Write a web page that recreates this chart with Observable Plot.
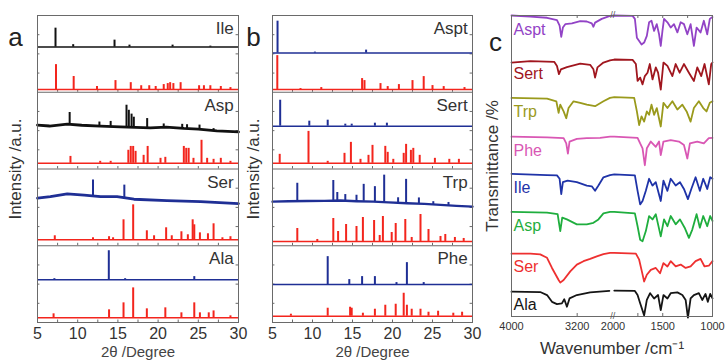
<!DOCTYPE html>
<html><head><meta charset="utf-8">
<script src="https://cdn.jsdelivr.net/npm/d3@7"></script>
<script src="https://cdn.jsdelivr.net/npm/@observablehq/plot@0.6"></script>
<style>
html,body{margin:0;padding:0;background:#fff;}
#wrap{position:relative;width:725px;height:362px;overflow:hidden;}
#wrap svg{position:absolute;top:0;overflow:visible;}
</style></head><body><div id="wrap"></div>
<script>
// ---------------- XRD data (2θ in degrees, intensity in a.u.; 100 a.u. = one sub-panel) ----------------
const xrdTicks = [5, 10, 15, 20, 25, 30];
const namesA = ["Ile", "Asp", "Ser", "Ala"];
const namesB = ["Aspt", "Sert", "Trp", "Phe"];

// baseline levels inside each sub-panel
const aMeasBase = [58.8, 53, 62, 55.8];
const aRefBase  = [3.5, 7.4, 7.8, 6.1];
const bMeasBase = [51, 55.8, 57, 49.4];
const bRefBase  = [3.5, 7.4, 5.6, 8.2];

// peaks: [2θ, height] or [2θ, height, local base]
const ileMeas = [[7.24,24.7],[9.44,3.2],[14.58,9.1],[16.44,2.6],[21.8,2.6],[26.5,1.3]];
const ileRef  = [[7.3,32.5],[9.5,17],[12.4,4],[14.7,11.7],[16.6,9],[17.9,5],[18.9,5],[19.7,4],[20.7,6.5],[21.2,7.8],[21.5,9],[21.9,7.8],[22.8,9],[25.1,5],[25.7,5],[26.5,5],[27.8,4],[29.0,2.6]];
const aspMeasBg = [[5,57.1],[6.5,56],[8.7,58.4],[10.5,57],[12.8,55.8],[15.3,55],[19.05,53.7],[21,54.5],[23.2,52.8],[25,52],[27.3,49.8],[30,48.4]];
const aspMeas = [[9.0,15.6,58],[12.7,5.2,56],[14.1,6.5,55.5],[16.07,28.6,54.5],[16.36,22,54.5],[16.7,17,54.5],[16.98,13,54.5],[18.64,11.7,54],[20.7,5.2,53.5],[23.0,5.2,53],[23.6,5.2,52.5],[25.15,5.2,52],[26.9,2.6,50]];
const aspRef  = [[9.1,9],[12.8,2.6],[14.1,2.6],[16.3,17],[16.6,22],[16.9,22],[17.2,15.6],[18.2,10.4],[18.7,22],[20.3,6.5],[20.9,7.8],[23.2,22],[23.5,19.5],[23.8,19.5],[24.4,6.5],[25.4,30],[26.1,6.5],[26.9,5.2],[27.8,6.5],[29.0,2.6]];
const serMeasBg = [[5,62],[6.6,64],[8.7,67.5],[10.8,66],[12.85,64],[14.9,64],[17.0,60.6],[21.1,58.9],[25.3,57.6],[30,55]];
const serMeas = [[11.9,21.7,64],[15.8,17,62]];
const serRef  = [[7.15,5.2],[11.9,2.6],[13.9,4],[14.4,2.6],[15.7,26],[16.9,45.5],[18.6,11.7],[19.5,5.2],[21.0,15.6],[21.7,5.2],[22.9,10.4],[23.7,6.5],[24.3,26],[24.5,19.5],[25.2,9],[26.2,7.8],[26.9,20.8],[28.0,2.6],[29.0,4]];
const alaMeas = [[7.1,1.3],[13.87,37.7],[15.9,1.3],[24.5,4]];
const alaRef  = [[7.0,5.2],[13.9,10.4],[15.7,19.5],[16.9,39],[18.6,11.7],[20.9,13],[22.9,6.5],[24.5,19.5],[25.2,6.5],[26.3,6.5],[26.9,9],[29.0,2.6]];

const asptMeas = [[5.63,41.6],[10.3,1.3],[16.7,3.9]];
const asptRef  = [[5.6,44.2],[8.5,1.3],[11.1,2.6],[16.2,14.3],[16.5,11.7],[18.5,7.8],[19.4,3.9],[20.8,6.5],[22.5,11.7],[23.9,16.9],[25.0,5.2],[26.4,3.9],[29.0,2.6]];
const sertMeas = [[5.96,33.8],[9.6,6.5],[11.9,7.8],[14.1,2.6],[14.9,2.6],[17.8,3.9],[19.3,3.9]];
const sertRef  = [[5.9,11.7],[9.5,41.6],[11.9,2.6],[14.0,13],[14.8,27.3],[16.0,5.2],[17.0,10.4],[17.5,23.4],[19.1,22.1],[19.4,14.3],[20.1,5.2],[21.4,13],[21.7,24.7],[22.3,16.9],[22.6,19.5],[23.4,10.4],[25.3,6.5],[27.1,5.2],[28.3,5.2]];
const trpMeasBg = [[5,57.5],[7,58],[9.3,58.4],[11.5,58.5],[13.5,58.9],[15.5,58],[17.6,57.5],[19.5,56.5],[21.8,55.4],[24,54.5],[26,53.2],[28,52],[30,51]];
const trpMeas = [[8.1,23.4,58],[12.6,26,59],[13.1,10.4,59],[14.1,7.8,58.9],[15.5,7.8,58],[16.4,22,58],[17.8,19.5,57.5],[18.96,35,57],[20.7,6.5,56],[21.7,31,55.5],[23.3,7.8,54.5],[25.1,3.9,53.5],[27.0,3.9,52.5]];
const trpRef  = [[8.1,16.9],[10.6,2.6],[12.6,29.9],[13.2,13],[14.2,22.1],[15.5,19.5],[16.3,31.2],[17.7,27.3],[18.4,7.8],[18.8,32.5],[19.9,11.7],[20.4,23.4],[21.6,28.6],[22.4,5.2],[23.5,35.1],[24.5,15.6],[26.0,6.5],[26.6,9.1],[27.8,5.2],[28.9,3.9]];
const pheMeas = [[11.9,36.4],[14.6,6.5],[16.2,10.4],[17.8,10.4],[20.5,2.6],[21.8,28.6],[23.9,2.6]];
const pheRef  = [[7.3,2.6],[11.9,10.4],[14.7,11.7],[14.9,10.4],[16.3,3.9],[17.8,9.1],[19.1,14.3],[20.4,15.6],[21.4,29.9],[21.8,14.3],[22.4,9.1],[23.5,9.1],[24.5,5.2],[25.7,6.5],[27.6,3.9],[28.7,5.2]];

// ---------------- FTIR data: [wavenumber /cm-1, transmittance (100 = top of trace)] ----------------
const irNames = ["Aspt", "Sert", "Trp", "Phe", "Ile", "Asp", "Ser", "Ala"];
const irTickWn = [4000, 3200, 2000, 1500, 1000];
const irMinorWn = [3200, 1750, 1500, 1250];
const irAspt = [[4000,100],[3770,97],[3567,94],[3446,88],[3414,73],[3394,43],[3374,68],[3345,77],[3264,79],[3163,85],[3083,84],[3022,79],[3002,70],[2982,81],[2901,91],[2800,99],[1987,100],[1803,99],[1780,91],[1760,41],[1737,32],[1713,23],[1687,28],[1660,46],[1637,82],[1613,86],[1587,59],[1560,77],[1537,50],[1520,19],[1503,59],[1487,91],[1453,82],[1420,68],[1387,77],[1353,55],[1320,82],[1287,77],[1253,50],[1220,77],[1187,19],[1160,68],[1120,55],[1087,86],[1053,50],[1027,91],[1000,96]];
const irSert = [[4000,91],[3770,95],[3480,93],[3446,82],[3422,60],[3398,73],[3325,79],[3163,88],[3042,85],[3002,73],[2982,51],[2953,78],[2880,91],[2800,97],[1987,99],[1803,98],[1770,87],[1753,42],[1727,51],[1703,33],[1680,55],[1653,64],[1630,87],[1603,46],[1570,78],[1547,64],[1520,19],[1493,91],[1453,82],[1403,55],[1370,87],[1330,64],[1287,87],[1237,64],[1187,42],[1153,78],[1113,55],[1080,87],[1037,33],[1013,87],[1000,91]];
const irTrp = [[4000,98],[3567,96],[3454,89],[3426,58],[3406,80],[3365,62],[3333,44],[3305,71],[3244,89],[3163,85],[3083,80],[2982,76],[2880,89],[2800,98],[1987,100],[1787,98],[1760,62],[1737,26],[1713,49],[1687,35],[1660,62],[1637,53],[1613,80],[1587,53],[1560,71],[1520,22],[1493,85],[1453,71],[1403,89],[1353,67],[1303,80],[1260,62],[1220,35],[1187,71],[1137,89],[1093,71],[1060,62],[1027,85],[1000,89]];
const irPhe = [[4000,100],[3567,98],[3365,96],[3333,82],[3313,55],[3293,87],[3204,94],[3083,96],[2921,97],[2800,100],[1987,100],[1753,97],[1727,82],[1703,69],[1680,24],[1660,69],[1620,87],[1570,73],[1537,87],[1520,51],[1493,87],[1420,91],[1337,87],[1287,78],[1253,42],[1227,82],[1153,87],[1087,82],[1037,96],[1000,97]];
const irIle = [[4000,100],[3567,97],[3446,96],[3414,87],[3394,46],[3374,78],[3317,82],[3204,78],[3083,69],[3022,67],[2982,55],[2941,69],[2880,91],[2800,97],[1987,99],[1780,96],[1753,55],[1727,19],[1703,28],[1670,55],[1637,87],[1603,69],[1570,78],[1520,28],[1493,82],[1453,55],[1420,87],[1370,69],[1327,78],[1287,60],[1247,33],[1213,60],[1170,91],[1127,55],[1093,87],[1053,60],[1023,91],[1000,87]];
const irAsp = [[4000,100],[3567,98],[3438,94],[3406,49],[3382,85],[3325,80],[3204,67],[3083,67],[3002,71],[2941,80],[2880,96],[2800,100],[1987,100],[1780,96],[1753,62],[1727,26],[1703,22],[1670,49],[1637,89],[1603,80],[1570,94],[1520,35],[1487,80],[1453,62],[1420,89],[1370,67],[1327,80],[1280,58],[1237,31],[1203,53],[1160,94],[1127,58],[1093,89],[1053,62],[1023,89],[1000,76]];
const irSer = [[4000,98],[3770,98],[3650,96],[3567,87],[3507,60],[3426,28],[3406,21],[3365,28],[3284,51],[3204,69],[3123,78],[3042,84],[2961,91],[2880,97],[2800,100],[1987,100],[1770,98],[1737,82],[1710,51],[1687,24],[1660,42],[1620,55],[1570,60],[1527,46],[1493,73],[1453,64],[1420,78],[1370,64],[1320,69],[1270,60],[1220,64],[1170,78],[1120,84],[1080,64],[1037,66],[1000,78]];
const irAla = [[4000,97],[3650,96],[3567,88],[3507,70],[3446,64],[3386,66],[3357,77],[3325,57],[3293,79],[3204,88],[3042,95],[2808,99],[1987,100],[1780,99],[1753,88],[1727,66],[1687,34],[1660,75],[1627,93],[1587,79],[1547,88],[1520,48],[1493,88],[1453,79],[1420,93],[1353,95],[1303,88],[1270,75],[1247,28],[1220,79],[1187,88],[1137,93],[1103,75],[1070,91],[1047,70],[1023,91],[1000,79]];
const irSplit = ["Ala"]; // trace drawn with a gap at the axis break

// ---------------- styles / layout ----------------
const FONT = "'Liberation Sans', Arial, Helvetica, sans-serif";
const TXT = "#333";
const FRAME = "#6a6a6a";
const BLACK = "#111", BLUE = "#1f2f95", RED = "#f3251d";
const irColors = ["#9243c6", "#a0161e", "#9a9a1c", "#d957b4", "#1f33a8", "#1fae3e", "#ee3030", "#151515"];
const irOffsets = [7.0, 5.84, 4.83, 3.78, 2.79, 1.78, 0.69, -0.31];

const wrap = document.getElementById("wrap");
function place(svg, left) { svg.style.left = left + "px"; wrap.appendChild(svg); }

function xrdPanel(opts) {
  const {left, width, mL, mR, letter, names, traces} = opts;
  const marks = [];
  const levels = d3.range(0, 400, 25).filter(v => v % 100 !== 0);
  const divs = [0, 100, 200, 300];
  const minor = d3.range(5, 30.01, 2.5);
  marks.push(Plot.ruleY(levels, {y: d => d, x1: 5, x2: 5.3, stroke: FRAME}));
  marks.push(Plot.ruleY(levels, {y: d => d, x1: 29.7, x2: 30, stroke: FRAME}));
  for (const k of divs) {
    marks.push(Plot.ruleX(minor, {x: d => d, y1: k, y2: k + 3.2, stroke: FRAME}));
  }
  marks.push(Plot.ruleY([100, 200, 300], {stroke: FRAME, strokeWidth: 1}));
  for (const t of traces) {
    const off = (3 - t.sub) * 100;
    if (t.bg) {
      marks.push(Plot.line(t.bg, {x: d => d[0], y: d => off + d[1], stroke: t.color, strokeWidth: t.bgWidth || 2.8}));
    } else {
      marks.push(Plot.ruleY([off + t.base], {stroke: t.color, strokeWidth: 1.5}));
    }
    marks.push(Plot.ruleX(t.peaks, {
      x: d => d[0],
      y1: d => off + (d[2] ?? t.base),
      y2: d => off + (d[2] ?? t.base) + d[1],
      stroke: t.color, strokeWidth: 2
    }));
  }
  marks.push(Plot.frame({stroke: FRAME, strokeWidth: 1}));
  marks.push(Plot.text(names, {x: 29.4, y: (d, i) => (3 - i) * 100 + 83, text: d => d, textAnchor: "end", fontSize: 17, fill: TXT}));
  marks.push(Plot.axisX(xrdTicks, {tickSize: 0, tickPadding: 5, fontSize: 16, fill: TXT, label: null}));
  marks.push(Plot.text(["2θ /Degree"], {frameAnchor: "bottom", dy: 30, lineAnchor: "middle", textAnchor: "middle", fontSize: 15, fill: "#444"}));
  marks.push(Plot.text(["Intensity /a.u."], {frameAnchor: "left", dx: opts.titleDx, rotate: -90, textAnchor: "middle", lineAnchor: "middle", fontSize: 17, fill: TXT}));
  marks.push(Plot.text([letter], {frameAnchor: "top-left", dx: opts.titleDx, dy: 22, textAnchor: "middle", lineAnchor: "middle", fontSize: 26, fill: "#222"}));
  const svg = Plot.plot({
    width, height: 362, marginLeft: mL, marginRight: mR, marginTop: 15, marginBottom: 40,
    x: {domain: [5, 30], axis: null},
    y: {domain: [0, 400], axis: null},
    style: {fontFamily: FONT, background: "transparent", overflow: "visible", color: TXT},
    marks
  });
  place(svg, left);
}

xrdPanel({
  left: 0, width: 240, mL: 37, mR: 2, letter: "a", names: namesA, titleDx: -22,
  traces: [
    {sub: 0, color: BLACK, base: aMeasBase[0], peaks: ileMeas},
    {sub: 0, color: RED, base: aRefBase[0], peaks: ileRef},
    {sub: 1, color: BLACK, base: aMeasBase[1], peaks: aspMeas, bg: aspMeasBg},
    {sub: 1, color: RED, base: aRefBase[1], peaks: aspRef},
    {sub: 2, color: BLUE, base: aMeasBase[2], peaks: serMeas, bg: serMeasBg},
    {sub: 2, color: RED, base: aRefBase[2], peaks: serRef},
    {sub: 3, color: BLUE, base: aMeasBase[3], peaks: alaMeas},
    {sub: 3, color: RED, base: aRefBase[3], peaks: alaRef}
  ]
});

xrdPanel({
  left: 240, width: 240, mL: 32, mR: 8, letter: "b", names: namesB, titleDx: -19,
  traces: [
    {sub: 0, color: BLUE, base: bMeasBase[0], peaks: asptMeas},
    {sub: 0, color: RED, base: bRefBase[0], peaks: asptRef},
    {sub: 1, color: BLUE, base: bMeasBase[1], peaks: sertMeas},
    {sub: 1, color: RED, base: bRefBase[1], peaks: sertRef},
    {sub: 2, color: BLUE, base: bMeasBase[2], peaks: trpMeas, bg: trpMeasBg, bgWidth: 2.4},
    {sub: 2, color: RED, base: bRefBase[2], peaks: trpRef},
    {sub: 3, color: BLUE, base: bMeasBase[3], peaks: pheMeas},
    {sub: 3, color: RED, base: bRefBase[3], peaks: pheRef}
  ]
});

// ---------------- panel c: broken wavenumber axis ----------------
const brk = wn => wn > 2400 ? (4000 - wn) * 0.0825 : 102 + (2000 - wn) * 0.1;
const brkU = (brk(2770) + brk(2000)) / 2;
const irSeries = [irAspt, irSert, irTrp, irPhe, irIle, irAsp, irSer, irAla];
const irRows = [];
irSeries.forEach((arr, i) => {
  const name = irNames[i];
  arr.forEach(([wn, t]) => irRows.push({
    name, u: brk(wn), y: irOffsets[i] + t / 100,
    z: irSplit.includes(name) ? name + (wn > 2400 ? "L" : "R") : name
  }));
});
const irColorMap = new Map(irNames.map((n, i) => [n, irColors[i]]));
const tickLab = new Map(irTickWn.map(w => [brk(w), String(w)]));

const cSvg = Plot.plot({
  width: 245, height: 362, marginLeft: 31, marginRight: 13, marginTop: 15, marginBottom: 46,
  x: {domain: [0, 202], axis: null},
  y: {domain: [0, 8], axis: null},
  style: {fontFamily: FONT, background: "transparent", overflow: "visible", color: TXT},
  marks: [
    Plot.ruleX(irMinorWn, {x: brk, y1: 0, y2: 0.08, stroke: FRAME}),
    Plot.ruleX(irMinorWn, {x: brk, y1: 7.92, y2: 8, stroke: FRAME}),
    Plot.line(irRows, {x: "u", y: "y", z: "z", stroke: d => irColorMap.get(d.name), strokeWidth: 1.8, curve: "linear"}),
    Plot.frame({stroke: FRAME, strokeWidth: 1}),
    Plot.text(irNames, {x: brk(3975), y: (d, i) => irOffsets[i] + 0.62, text: d => d, textAnchor: "start", fontSize: 16, fill: d => irColorMap.get(d)}),
    Plot.text(["//"], {x: brkU, frameAnchor: "top", lineAnchor: "middle", fontSize: 9, fill: "#555"}),
    Plot.text(["//"], {x: brkU, frameAnchor: "bottom", lineAnchor: "middle", fontSize: 9, fill: "#555"}),
    Plot.axisX(irTickWn.map(brk), {tickSize: 0, tickPadding: 6, fontSize: 11, fill: TXT, label: null, tickFormat: u => tickLab.get(u)}),
    Plot.text(["Wavenumber /cm⁻¹"], {frameAnchor: "bottom", dy: 32, lineAnchor: "middle", textAnchor: "middle", fontSize: 17, fill: TXT}),
    Plot.text(["Transmittance /%"], {frameAnchor: "left", dx: -19, rotate: -90, textAnchor: "middle", lineAnchor: "middle", fontSize: 17, fill: TXT}),
    Plot.text(["c"], {frameAnchor: "top-left", dx: -16, dy: 27, textAnchor: "middle", lineAnchor: "middle", fontSize: 26, fill: "#222"})
  ]
});
place(cSvg, 480);
</script>
</body></html>
